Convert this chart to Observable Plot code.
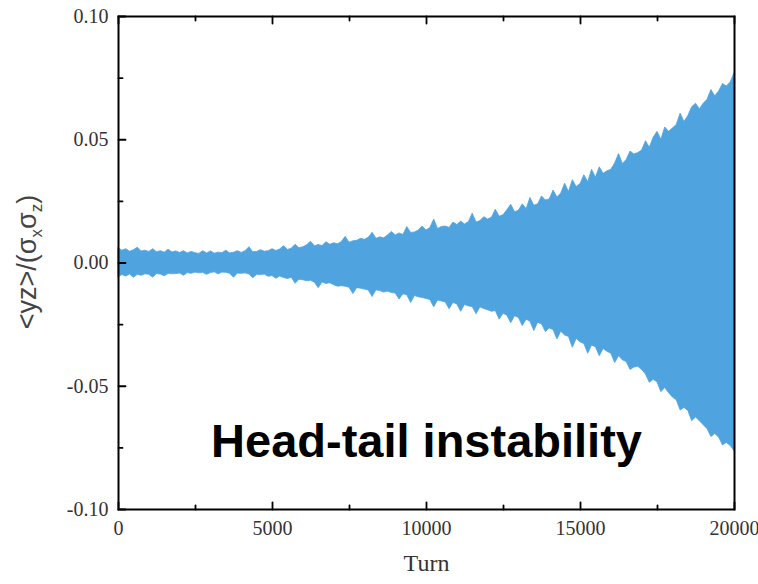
<!DOCTYPE html>
<html><head><meta charset="utf-8">
<script src="https://cdn.jsdelivr.net/npm/d3@7"></script>
<script src="https://cdn.jsdelivr.net/npm/@observablehq/plot@0.6"></script>
<style>body{margin:0;background:#fff;}</style>
</head><body><div id="chart"></div>
<script>
// Turn grid (every 125 turns, 0..20000)
const turns = d3.range(0, 20001, 125);
// Upper envelope of <yz>/(σxσz), in units of 1e-3 (8 samples per 1000 turns)
const upper = [
  6.0,5.0,5.6,4.6,5.2,6.2,4.7,5.0,
  4.5,5.6,4.4,4.8,4.2,5.4,4.3,4.7,
  4.1,4.8,3.9,4.5,4.0,3.7,4.8,3.9,
  4.7,3.8,4.2,4.0,5.0,3.9,4.2,4.8,
  4.1,4.8,6.4,4.4,4.5,5.2,4.6,4.8,
  5.6,4.9,5.5,6.8,5.3,5.8,7.4,6.0,
  6.4,7.2,8.6,6.8,7.3,6.9,8.4,7.4,
  8.0,7.6,8.5,10.6,8.2,8.8,9.0,9.8,
  9.4,10.2,12.3,9.8,10.4,10.0,11.2,12.6,
  11.2,12.0,11.4,14.6,12.2,12.4,13.2,14.8,
  13.2,14.2,17.6,13.8,14.6,14.8,14.2,16.4,
  15.4,16.8,15.6,16.6,20.0,16.4,17.0,18.6,
  17.6,18.4,21.6,18.8,19.4,21.4,23.6,20.6,
  21.2,23.8,21.8,26.4,23.2,23.8,27.0,25.4,
  25.8,29.4,26.6,28.2,32.2,28.8,33.6,30.8,
  32.0,35.6,32.8,37.8,34.6,38.8,36.2,37.2,
  37.8,40.4,44.2,40.2,41.8,45.2,44.0,44.6,
  45.6,49.4,46.8,50.8,53.2,50.0,55.0,53.2,
  54.6,56.0,60.6,57.2,59.6,63.2,64.6,62.4,
  64.6,66.2,70.2,67.6,69.6,72.6,71.6,73.2,
  77.0];
// Lower envelope, in units of 1e-3
const lower = [
  -5.8,-4.9,-5.5,-4.7,-6.0,-4.8,-5.2,-4.6,
  -4.8,-5.9,-4.5,-4.7,-5.4,-4.4,-4.6,-4.5,
  -4.3,-5.2,-4.1,-4.4,-3.9,-4.2,-4.0,-4.8,
  -4.1,-3.8,-4.6,-3.9,-4.0,-4.4,-6.0,-4.3,
  -4.4,-4.2,-4.7,-6.2,-4.8,-4.9,-4.7,-5.6,
  -5.3,-6.4,-5.5,-6.1,-6.5,-6.0,-8.4,-6.8,
  -7.0,-7.4,-7.2,-8.0,-10.2,-7.9,-8.5,-8.2,
  -9.0,-9.6,-9.4,-9.6,-10.0,-12.6,-10.2,-10.4,
  -10.8,-11.2,-13.8,-11.1,-11.4,-12.0,-11.6,-12.2,
  -12.4,-14.8,-12.7,-13.1,-16.2,-13.4,-13.9,-14.2,
  -14.6,-15.0,-18.0,-15.2,-15.6,-16.0,-18.8,-16.2,
  -16.8,-19.8,-17.0,-17.6,-17.9,-20.8,-18.0,-18.7,
  -19.2,-19.8,-19.5,-23.0,-20.6,-21.4,-24.4,-21.6,
  -22.3,-25.6,-23.0,-23.8,-27.6,-24.2,-24.9,-28.0,
  -26.6,-27.2,-31.0,-27.9,-29.4,-30.0,-34.4,-30.8,
  -32.2,-32.9,-36.8,-33.5,-34.2,-37.8,-34.9,-36.0,
  -36.8,-40.6,-37.8,-39.5,-40.2,-43.4,-42.4,-42.1,
  -43.4,-45.2,-48.6,-47.4,-48.4,-52.4,-50.7,-52.8,
  -54.6,-55.7,-59.8,-58.8,-60.0,-64.2,-62.7,-64.2,
  -65.8,-67.4,-70.6,-69.4,-70.8,-74.0,-73.0,-74.2,
  -76.4];
const xMajorTicks = [0, 5000, 10000, 15000, 20000];
const xMinorTicks = [2500, 7500, 12500, 17500];
const yMajorTicks = [-0.10, -0.05, 0, 0.05, 0.10];
const yMinorTicks = [-0.075, -0.025, 0.025, 0.075];
const xLabel = "Turn";
const annotation = "Head-tail instability";
const annoX = 10000, annoY = -0.0725;

const data = turns.map((t, i) => ({turn: t, hi: upper[i] / 1000, lo: lower[i] / 1000}));

const serif = "'Liberation Serif', 'Times New Roman', serif";
const sans = "'Liberation Sans', Arial, sans-serif";
const tickShape = {draw(ctx, l) { ctx.moveTo(0, 0); ctx.lineTo(0, -l); }};
const tickOpts = {shape: tickShape, anchor: "start", stroke: "#000", strokeWidth: 1.8};

const chart = Plot.plot({
  width: 758, height: 584,
  marginLeft: 118, marginRight: 24, marginTop: 16, marginBottom: 75,
  style: {fontFamily: serif, fontSize: "20px", color: "#333", background: "#fff"},
  x: {domain: [0, 20000]},
  y: {domain: [-0.1, 0.1]},
  marks: [
    Plot.areaY(data, {x: "turn", y1: "lo", y2: "hi", fill: "#4fa3df", stroke: "#4fa3df", strokeWidth: 0.8, curve: "linear"}),
    Plot.axisX({ticks: xMajorTicks, tickSize: 0, tickPadding: 11, tickFormat: d => String(d), label: null,
      fontFamily: serif, fontSize: 20, fill: "#333"}),
    Plot.axisY({ticks: yMajorTicks, tickSize: 0, tickPadding: 10, tickFormat: d => d.toFixed(2), label: null,
      fontFamily: serif, fontSize: 20, fill: "#333"}),
    Plot.vector(xMajorTicks, {x: d => d, frameAnchor: "bottom", length: 7, rotate: 0, ...tickOpts}),
    Plot.vector(xMinorTicks, {x: d => d, frameAnchor: "bottom", length: 4, rotate: 0, ...tickOpts}),
    Plot.vector(xMajorTicks, {x: d => d, frameAnchor: "top", length: 7, rotate: 180, ...tickOpts}),
    Plot.vector(xMinorTicks, {x: d => d, frameAnchor: "top", length: 4, rotate: 180, ...tickOpts}),
    Plot.vector(yMajorTicks, {y: d => d, frameAnchor: "left", length: 7, rotate: 90, ...tickOpts}),
    Plot.vector(yMinorTicks, {y: d => d, frameAnchor: "left", length: 4, rotate: 90, ...tickOpts}),
    Plot.frame({stroke: "#000", strokeWidth: 2}),
    Plot.text([xLabel], {text: d => d, frameAnchor: "bottom", dy: 61, fontSize: 24, fontFamily: serif, fill: "#333"}),
    Plot.text([annotation], {text: d => d, x: () => annoX, y: () => annoY, fontSize: 47, fontWeight: "bold",
      fontFamily: sans, fill: "#000"})
  ]
});
document.getElementById("chart").appendChild(chart);

const svg = d3.select(chart.tagName.toLowerCase() === "svg" ? chart : chart.querySelector("svg"));
// Force serif on every text except the bold annotation
svg.selectAll("text").each(function() {
  if (this.textContent !== annotation) {
    this.style.fontFamily = serif;
    this.setAttribute("font-family", serif);
    if (this.textContent !== xLabel) this.style.fontSize = "20px";
  }
});
svg.selectAll("g").each(function() {
  const lab = this.getAttribute("aria-label") || "";
  if (lab.indexOf("tick label") >= 0) { this.style.fontFamily = serif; this.setAttribute("font-family", serif); this.style.fontVariant = "normal"; }
});

// Y-axis label with subscripts
const yl = svg.append("text")
  .attr("transform", "translate(36,262) rotate(-90)")
  .attr("text-anchor", "middle")
  .attr("font-family", sans)
  .attr("font-size", 27)
  .attr("fill", "#444");
yl.append("tspan").text("<yz>/(σ");
yl.append("tspan").attr("font-size", 17).attr("dy", 6).text("x");
yl.append("tspan").attr("dy", -6).text("σ");
yl.append("tspan").attr("font-size", 17).attr("dy", 6).text("z");
yl.append("tspan").attr("dy", -6).text(")");
</script>
</body></html>
